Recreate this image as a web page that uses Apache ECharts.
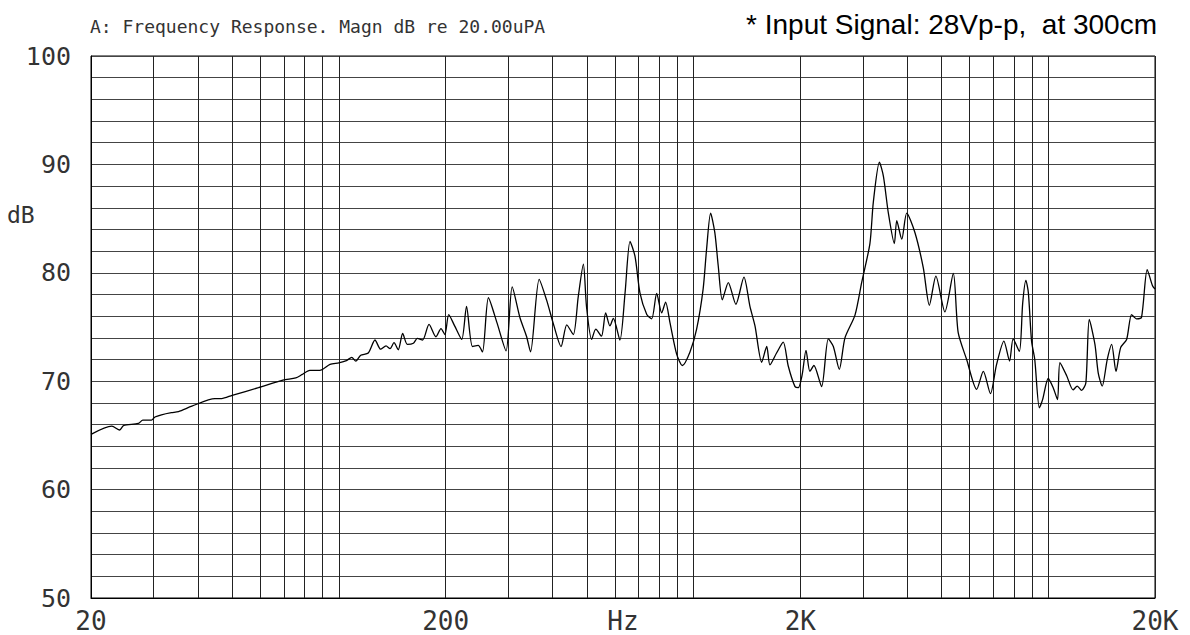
<!DOCTYPE html>
<html>
<head>
<meta charset="utf-8">
<script src="https://cdn.jsdelivr.net/npm/echarts@6/dist/echarts.min.js"></script>
<style>
html,body{margin:0;padding:0;background:#fff;}
#chart{width:1190px;height:635px;}
</style>
</head>
<body>
<div id="chart"></div>
<script>
// Frequency (Hz) and level (dB re 20 uPa)
const freqHz = [20, 22.9, 24.1, 24.7, 27.2, 28, 29.6, 30.3, 31.6, 33.7, 35.3, 38.5, 44.7, 46.7, 50, 59.3, 69.5, 75.6, 78.6, 82.8, 88.3, 94.4, 100, 105, 108.7, 111.6, 115.2, 121, 126.4, 131.1, 135.8, 139.4, 143, 147, 151.3, 155.9, 162.2, 166.4, 172.2, 179.5, 187.8, 194, 199, 204, 212,
  222, 229, 238, 247, 254, 264, 279, 296, 308, 324, 338, 347, 367, 385, 404, 423, 439, 458, 473, 489, 499, 516, 530, 550, 565, 581, 594, 620, 641, 662, 684, 706, 738, 762, 787, 813, 834, 858, 896, 930, 977,
  1020, 1064, 1088, 1117, 1148, 1174, 1205, 1253, 1316, 1387, 1442, 1490, 1556, 1608, 1642, 1714, 1790, 1849, 1932, 1974, 2024, 2075, 2128, 2184, 2296, 2398, 2478, 2576, 2672, 2852, 2978,
  3142, 3212, 3342, 3430, 3542, 3682, 3740, 3864, 3990, 4210, 4444, 4622, 4822, 5112, 5400, 5572, 5888, 6282, 6562, 6872, 7146, 7500, 7780, 7962, 8290, 8472, 8650, 8790, 8974, 9162, 9440, 9640,
  10000, 10328, 10620, 10790, 11272, 11750, 12072, 12416, 12766, 13052, 13542, 13836, 14198, 14666, 15096, 15524, 16000, 16636, 17180, 17744, 18324, 19012, 19680, 20000];
const levelDb = [65.1, 65.85, 65.5, 65.9, 66.1, 66.4, 66.4, 66.7, 66.9, 67.1, 67.2, 67.7, 68.4, 68.4, 68.7, 69.4, 70.1, 70.3, 70.6, 71.0, 71.0, 71.55, 71.7, 71.9, 72.2, 71.85, 72.4, 72.6, 73.8, 72.95, 73.25, 73.0, 73.55, 72.9, 74.4, 73.4, 73.5, 73.95, 73.8, 75.25, 74.1, 74.85, 74.3, 76.15, 75.1,
  73.85, 76.9, 73.2, 73.3, 72.7, 77.7, 75.4, 72.8, 78.7, 75.85, 74.15, 72.7, 79.4, 77.5, 75.1, 73.2, 75.2, 74.3, 77.8, 80.8, 76.9, 73.85, 74.8, 74.15, 76.3, 75.1, 75.8, 73.8, 78.15, 82.9, 81.5, 78.15, 76.15, 75.75, 78.1, 76.3, 77.3, 75.4, 72.5, 71.45, 72.7,
  74.8, 78.5, 82.15, 85.5, 83.7, 80.6, 77.5, 79.1, 77.1, 79.6, 76.9, 75.1, 71.75, 73.2, 71.5, 72.6, 73.6, 71.4, 69.5, 69.4, 70.6, 72.85, 70.9, 71.45, 69.5, 73.9, 73.2, 71.1, 74.0, 76.1, 79.1,
  82.7, 86.5, 90.2, 88.9, 85.5, 82.7, 84.8, 83.1, 85.5, 83.7, 80.45, 77.0, 79.7, 76.4, 79.95, 74.5, 72.0, 69.25, 70.9, 68.85, 71.5, 73.7, 71.85, 73.9, 72.75, 77.2, 79.3, 78.15, 73.7, 72.0, 67.55, 68.3,
  70.25, 69.4, 68.3, 71.7, 70.5, 69.2, 69.55, 69.15, 69.85, 75.7, 73.4, 70.75, 69.55, 72.0, 73.4, 70.9, 73.1, 73.85, 76.15, 75.75, 75.9, 80.3, 78.8, 78.5];

// Grid and tick labels
const gridFreqs = [20, 30, 40, 50, 60, 70, 80, 90, 100, 200, 300, 400, 500, 600, 700, 800, 900, 1000, 2000, 3000, 4000, 5000, 6000, 7000, 8000, 9000, 10000, 20000];
const xTickValues = [20, 200, 2000, 20000];
const xTickLabels = ['20', '200', '2K', '20K'];
const yTickValues = [50, 60, 70, 80, 90, 100];

const titleText = 'A: Frequency Response. Magn dB re 20.00uPA';
const noteText = '* Input Signal: 28Vp-p,  at 300cm';
const xName = 'Hz';
const yName = 'dB';

const plotFont = '"DejaVu Sans Mono", "Liberation Mono", monospace';
const textGray = '#333';
const chart = echarts.init(document.getElementById('chart'), null, {renderer: 'svg'});
chart.setOption({
  animation: false,
  backgroundColor: '#fff',
  title: [
    {text: titleText, left: 90, top: 17, padding: 0, textStyle: {fontFamily: plotFont, fontSize: 18, fontWeight: 'normal', color: textGray}},
    {text: noteText, right: 33, top: 10, padding: 0, textStyle: {fontFamily: '"Liberation Sans", Arial, sans-serif', fontSize: 28, fontWeight: 'normal', color: '#000'}},
    {text: yName, left: 7, top: 203, padding: 0, textStyle: {fontFamily: plotFont, fontSize: 23, fontWeight: 'normal', color: textGray}}
  ],
  grid: {left: 91, right: 35, top: 56, bottom: 37, containLabel: false, outerBoundsMode: 'none', show: true, borderColor: '#000', borderWidth: 1},
  xAxis: {
    type: 'log', logBase: 10, min: 20, max: 20000,
    name: xName, nameLocation: 'middle', nameGap: 10, nameMoveOverlap: false,
    nameTextStyle: {fontFamily: plotFont, fontSize: 26, color: textGray},
    axisLine: {show: true, lineStyle: {color: '#000', width: 1}},
    axisTick: {show: false, customValues: gridFreqs},
    splitLine: {show: true, lineStyle: {color: '#222', width: 1}},
    axisLabel: {
      customValues: xTickValues, margin: 10,
      fontFamily: plotFont, fontSize: 26, color: textGray,
      formatter: v => { const i = xTickValues.findIndex(t => Math.abs(t - v) / t < 0.01); return i >= 0 ? xTickLabels[i] : ''; }
    }
  },
  yAxis: {
    type: 'value', min: 50, max: 100, interval: 2,
    axisLine: {show: true, lineStyle: {color: '#000', width: 1}},
    axisTick: {show: false},
    splitLine: {show: true, lineStyle: {color: '#444', width: 1}},
    axisLabel: {customValues: yTickValues, margin: 20, fontFamily: plotFont, fontSize: 25, color: textGray}
  },
  series: [{
    type: 'line',
    data: freqHz.map((f, i) => [f, levelDb[i]]),
    showSymbol: false,
    smooth: 0.25,
    lineStyle: {color: '#000', width: 1.3}
  }]
});
</script>
</body>
</html>
